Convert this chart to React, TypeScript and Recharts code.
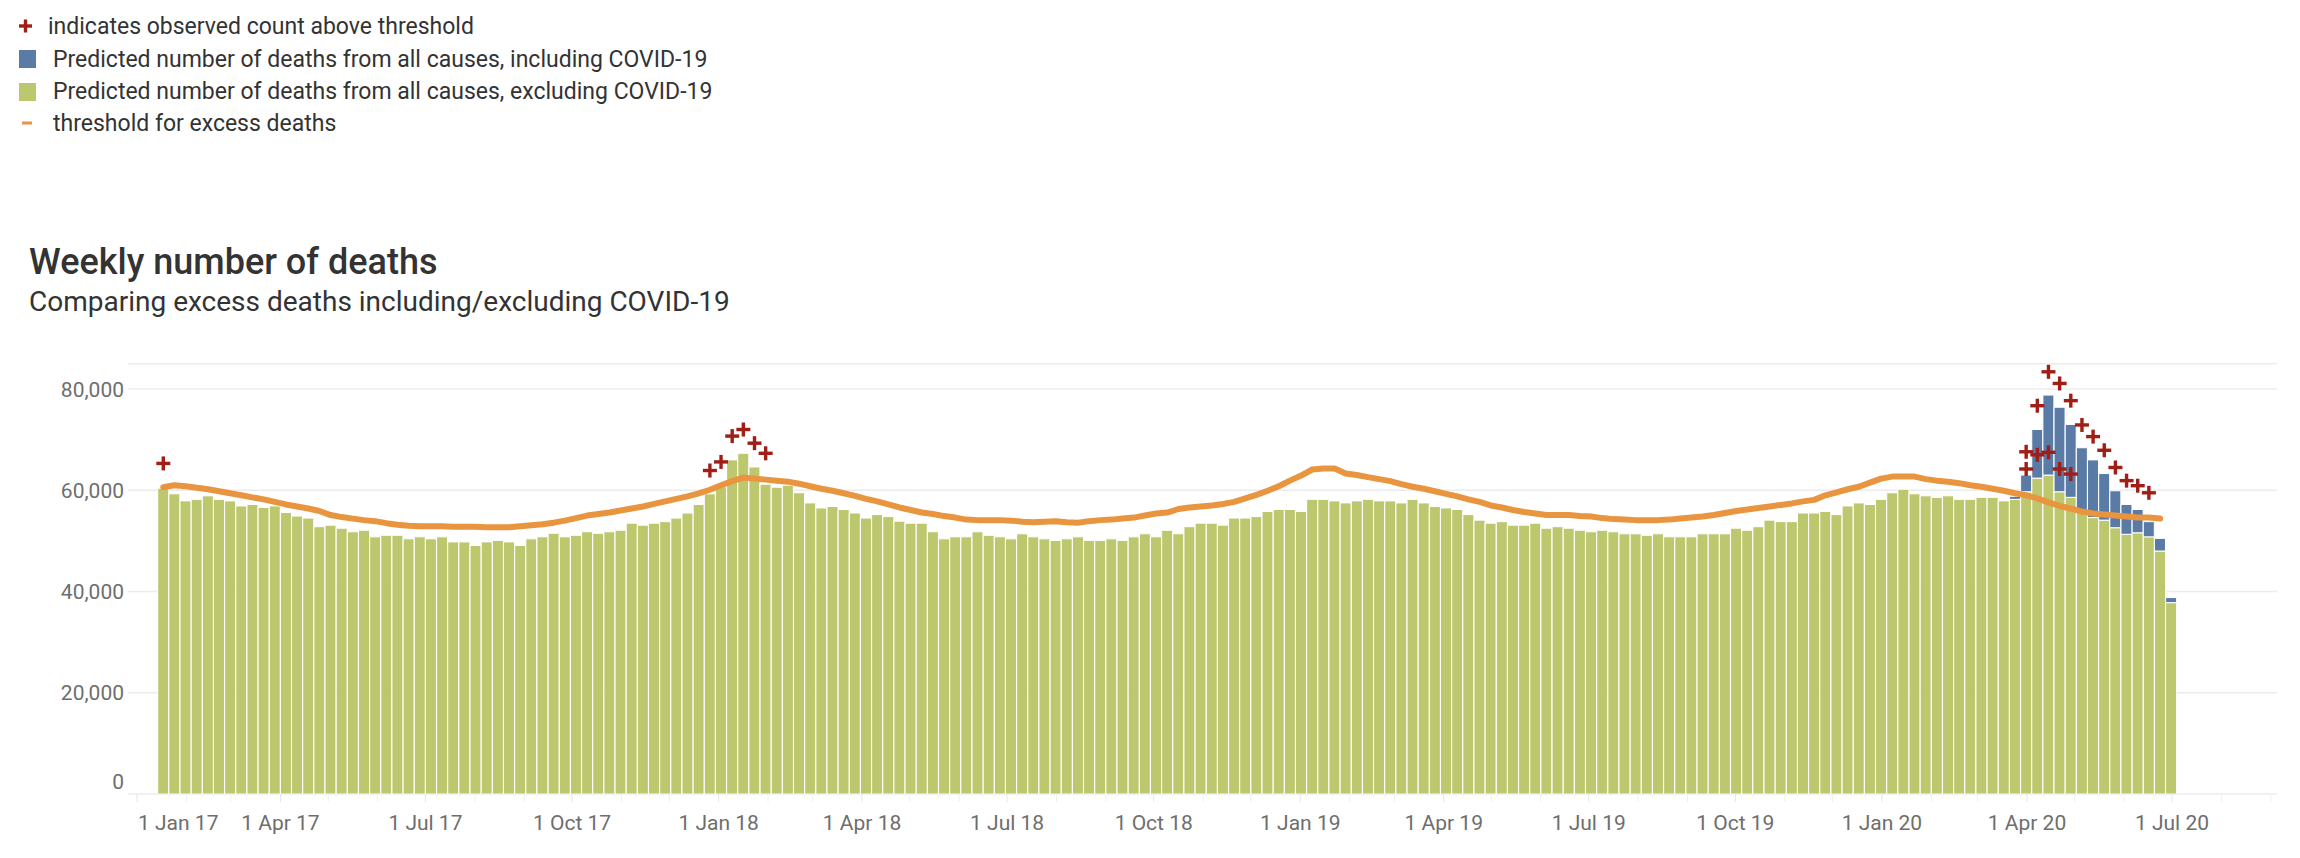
import React from "react";
import {
  ComposedChart,
  Bar,
  Line,
  Scatter,
  XAxis,
  YAxis,
  CartesianGrid,
} from "recharts";

const DAY_MS = 86400000;
const AXIS_ORIGIN = Date.UTC(2017, 0, 1);
const FIRST_WEEK = Date.UTC(2017, 0, 14); // first plotted week

// weekly deaths excluding COVID-19 (green bars), one per week
const nonCovidDeaths = [
  60400, 59300, 57900, 58200, 58900, 58200, 57900, 56900, 57200, 56600,
  56900, 55600, 54900, 54500, 52800, 53100, 52500, 51800, 52100, 50800,
  51100, 51100, 50400, 50800, 50400, 50800, 49800, 49800, 49100, 49800,
  50100, 49800, 49100, 50400, 50800, 51500, 50800, 51100, 51800, 51500,
  51800, 52100, 53500, 53100, 53500, 53800, 54500, 55500, 57200, 59300,
  60700, 66000, 67300, 64600, 61200, 60600, 61000, 59500, 57500, 56500,
  56800, 56200, 55500, 54500, 55200, 54800, 53900, 53500, 53500, 51800,
  50400, 50800, 50800, 51800, 51100, 50800, 50400, 51400, 50800, 50400,
  50100, 50400, 50800, 50100, 50100, 50400, 50100, 50800, 51400, 50800,
  52100, 51400, 52800, 53500, 53500, 53100, 54500, 54500, 54800, 55800,
  56200, 56200, 55800, 58200, 58200, 57900, 57500, 57900, 58200, 57900,
  57900, 57500, 58200, 57500, 56800, 56500, 56200, 55200, 54100, 53500,
  53800, 53100, 53100, 53500, 52500, 52800, 52500, 52100, 51800, 52100,
  51800, 51400, 51400, 51100, 51400, 50800, 50800, 50800, 51400, 51400,
  51400, 52500, 52100, 52800, 54100, 53800, 53800, 55500, 55500, 55800,
  55200, 56900, 57500, 57200, 58200, 59500, 60200, 59300, 58900, 58600,
  58900, 58200, 58200, 58600, 58600, 57900, 58200, 59700, 62400, 63000,
  59700, 58600, 55900, 54600, 54100, 52600, 51300, 51600, 50800, 48000,
  37800,
];

// COVID-19 deaths stacked on top (blue), starting at week index 166
const covidFirstWeek = 166;
const covidDeaths = [
  600, 3300, 9600, 15800, 16700, 14400, 12500, 11400, 9200, 7300, 5900, 4600,
  3000, 2500, 1000,
];

// threshold for excess deaths (orange line)
const thresholdDeaths = [
  60600, 61000, 60800, 60500, 60200, 59800, 59400, 59000, 58600, 58200,
  57700, 57200, 56800, 56400, 55900, 55100, 54700, 54400, 54100, 53900,
  53500, 53200, 53000, 52900, 52900, 52900, 52800, 52800, 52800, 52700,
  52700, 52700, 52900, 53100, 53300, 53600, 54000, 54500, 55000, 55300,
  55600, 56000, 56400, 56800, 57300, 57800, 58300, 58800, 59400, 60100,
  61000, 61800, 62500, 62300, 62100, 61900, 61700, 61300, 60800, 60300,
  59900, 59400, 58900, 58300, 57800, 57200, 56600, 56100, 55600, 55300,
  54900, 54600, 54200, 54100, 54100, 54100, 54000, 53800, 53700, 53800,
  53900, 53700, 53600, 53900, 54100, 54200, 54400, 54600, 55000, 55400,
  55600, 56300, 56600, 56800, 57000, 57300, 57700, 58400, 59100, 59900,
  60800, 61900, 62900, 64100, 64300, 64300, 63300, 63000, 62600, 62200,
  61800, 61200, 60700, 60300, 59800, 59300, 58800, 58200, 57700, 57000,
  56600, 56100, 55700, 55400, 55100, 55100, 55100, 54900, 54800, 54500,
  54300, 54200, 54100, 54100, 54100, 54200, 54400, 54600, 54800, 55100,
  55500, 55900, 56200, 56500, 56800, 57100, 57400, 57800, 58100, 59000,
  59600, 60200, 60700, 61500, 62300, 62700, 62700, 62700, 62200, 61900,
  61700, 61400, 61000, 60700, 60300, 59900, 59400, 59000, 58400, 57600,
  56900, 56400, 55800, 55400, 55200, 55000, 54800, 54600, 54600, 54400,
];

// observed counts above threshold (red +)
const aboveWeeks = [
  0, 49, 50, 51, 52, 53, 54, 167, 168, 169, 170, 171, 172, 173, 174, 175, 176,
  177, 178,
];
const aboveCounts = [
  65300, 63900, 65600, 70700, 72000, 69300, 67300, 67600, 76700, 83400, 81100,
  77700, 72900, 70600, 67900, 64500, 61900, 60900, 59500,
];
const aboveExclWeeks = [167, 168, 169, 170, 171];
const aboveExclCounts = [64200, 67000, 67500, 64200, 63200];

const yTicks = [0, 20000, 40000, 60000, 80000];
const MONTHS = ["Jan", "Feb", "Mar", "Apr", "May", "Jun", "Jul", "Aug", "Sep", "Oct", "Nov", "Dec"];

const GREEN = "#BDC76D";
const BLUE = "#5A7BA5";
const ORANGE = "#E9953F";
const RED = "#A01E16";
const FONT = "Roboto, 'Open Sans', sans-serif";

const dayOf = (t: number) => (t - AXIS_ORIGIN) / DAY_MS;
const weekX = (i: number) => dayOf(FIRST_WEEK + i * 7 * DAY_MS) + 3.5;

const data = nonCovidDeaths.map((v, i) => ({
  x: weekX(i),
  nonCovid: v,
  covid: i >= covidFirstWeek ? covidDeaths[i - covidFirstWeek] : null,
  threshold: i < thresholdDeaths.length ? thresholdDeaths[i] : null,
}));

const abovePoints = aboveWeeks.map((w, k) => ({ x: weekX(w), obs: aboveCounts[k] }));
const aboveExclPoints = aboveExclWeeks.map((w, k) => ({ x: weekX(w), obs: aboveExclCounts[k] }));

const monthTicks: number[] = [];
for (let y = 2017; y <= 2020; y++) {
  for (let m = 0; m < 12; m++) {
    const d = dayOf(Date.UTC(y, m, 1));
    if (d <= 1340) monthTicks.push(d);
  }
}

const PlusMark = (p: any) => {
  const { cx, cy } = p;
  if (!Number.isFinite(cx) || !Number.isFinite(cy)) return <g />;
  return (
    <g fill={RED}>
      <rect x={cx - 7} y={cy - 1.7} width={14} height={3.4} />
      <rect x={cx - 1.7} y={cy - 7} width={3.4} height={14} />
    </g>
  );
};

const DateTick = (p: any) => {
  const { x, y, payload } = p;
  const d = new Date(AXIS_ORIGIN + payload.value * DAY_MS);
  const m = d.getUTCMonth();
  const label = `1 ${MONTHS[m]} ${String(d.getUTCFullYear()).slice(2)}`;
  const first = payload.value === 0;
  const quarter = m % 3 === 0;
  return (
    <g>
      <line x1={x} x2={x} y1={y} y2={y + 8} stroke={quarter ? "#e6e6e6" : "#f0f0f0"} strokeWidth={1} />
      {quarter && (
        <text
          x={first ? x + 1 : x}
          y={y + 36}
          textAnchor={first ? "start" : "middle"}
          fill="#6e6e6e"
          fontSize={21}
          fontFamily={FONT}
        >
          {label}
        </text>
      )}
    </g>
  );
};

// the bottom label sits a little above its gridline, as in the original
const CountTick = (p: any) => {
  const { x, y, payload } = p;
  const lift = payload.value === 0 ? -13 : 0;
  return (
    <text x={x} y={y + lift} dy="0.36em" textAnchor="end" fill="#6e6e6e" fontSize={21} fontFamily={FONT}>
      {Number(payload.value).toLocaleString("en-US")}
    </text>
  );
};

const Header = () => (
  <svg width={2300} height={330} style={{ position: "absolute", left: 0, top: 0 }}>
    <g fontFamily={FONT} fill="#333">
      <g fill={RED}>
        <rect x={19} y={24.3} width={13} height={3.4} />
        <rect x={23.8} y={19.5} width={3.4} height={13} />
      </g>
      <text x={48} y={34} fontSize={23}>indicates observed count above threshold</text>
      <rect x={19} y={50} width={17} height={18} fill={BLUE} />
      <text x={53} y={67} fontSize={23}>Predicted number of deaths from all causes, including COVID-19</text>
      <rect x={19} y={83} width={17} height={18} fill={GREEN} />
      <text x={53} y={99} fontSize={23}>Predicted number of deaths from all causes, excluding COVID-19</text>
      <rect x={22} y={121.5} width={10} height={3} fill={ORANGE} />
      <text x={53} y={131} fontSize={23}>threshold for excess deaths</text>
      <text x={29} y={274} fontSize={36} fontWeight={500}>Weekly number of deaths</text>
      <text x={29} y={311} fontSize={28}>Comparing excess deaths including/excluding COVID-19</text>
    </g>
  </svg>
);

export default function App() {
  return (
    <div style={{ position: "absolute", left: 0, top: 0, width: 2300, height: 858, background: "#fff" }}>
      <ComposedChart
        width={2300}
        height={858}
        data={data}
        margin={{ top: 363.7, right: 23, bottom: 0, left: 0 }}
        style={{ position: "absolute", left: 0, top: 0 }}
      >
        <CartesianGrid vertical={false} stroke="#ececec" strokeWidth={1.5} />
        <XAxis
          dataKey="x"
          type="number"
          domain={[-5.65, 1342.9]}
          ticks={monthTicks}
          interval={0}
          tick={<DateTick />}
          tickLine={false}
          axisLine={false}
          tickSize={0}
          tickMargin={0}
          height={64}
          allowDataOverflow
        />
        <YAxis
          type="number"
          domain={[0, 85000]}
          ticks={yTicks}
          tick={<CountTick />}
          tickLine={false}
          axisLine={false}
          tickSize={0}
          tickMargin={4}
          width={128}
          allowDataOverflow
        />
        <Bar dataKey="nonCovid" stackId="d" fill={GREEN} stroke="#fff" strokeWidth={1} barSize={11} isAnimationActive={false} />
        <Bar dataKey="covid" stackId="d" fill={BLUE} stroke="#fff" strokeWidth={1} barSize={11} isAnimationActive={false} />
        <Line
          dataKey="threshold"
          type="linear"
          stroke={ORANGE}
          strokeWidth={6}
          strokeLinecap="round"
          strokeLinejoin="round"
          dot={false}
          activeDot={false}
          isAnimationActive={false}
        />
        <Scatter data={abovePoints} dataKey="obs" shape={(p: any) => <PlusMark {...p} />} isAnimationActive={false} />
        <Scatter data={aboveExclPoints} dataKey="obs" shape={(p: any) => <PlusMark {...p} />} isAnimationActive={false} />
      </ComposedChart>
      <Header />
    </div>
  );
}
